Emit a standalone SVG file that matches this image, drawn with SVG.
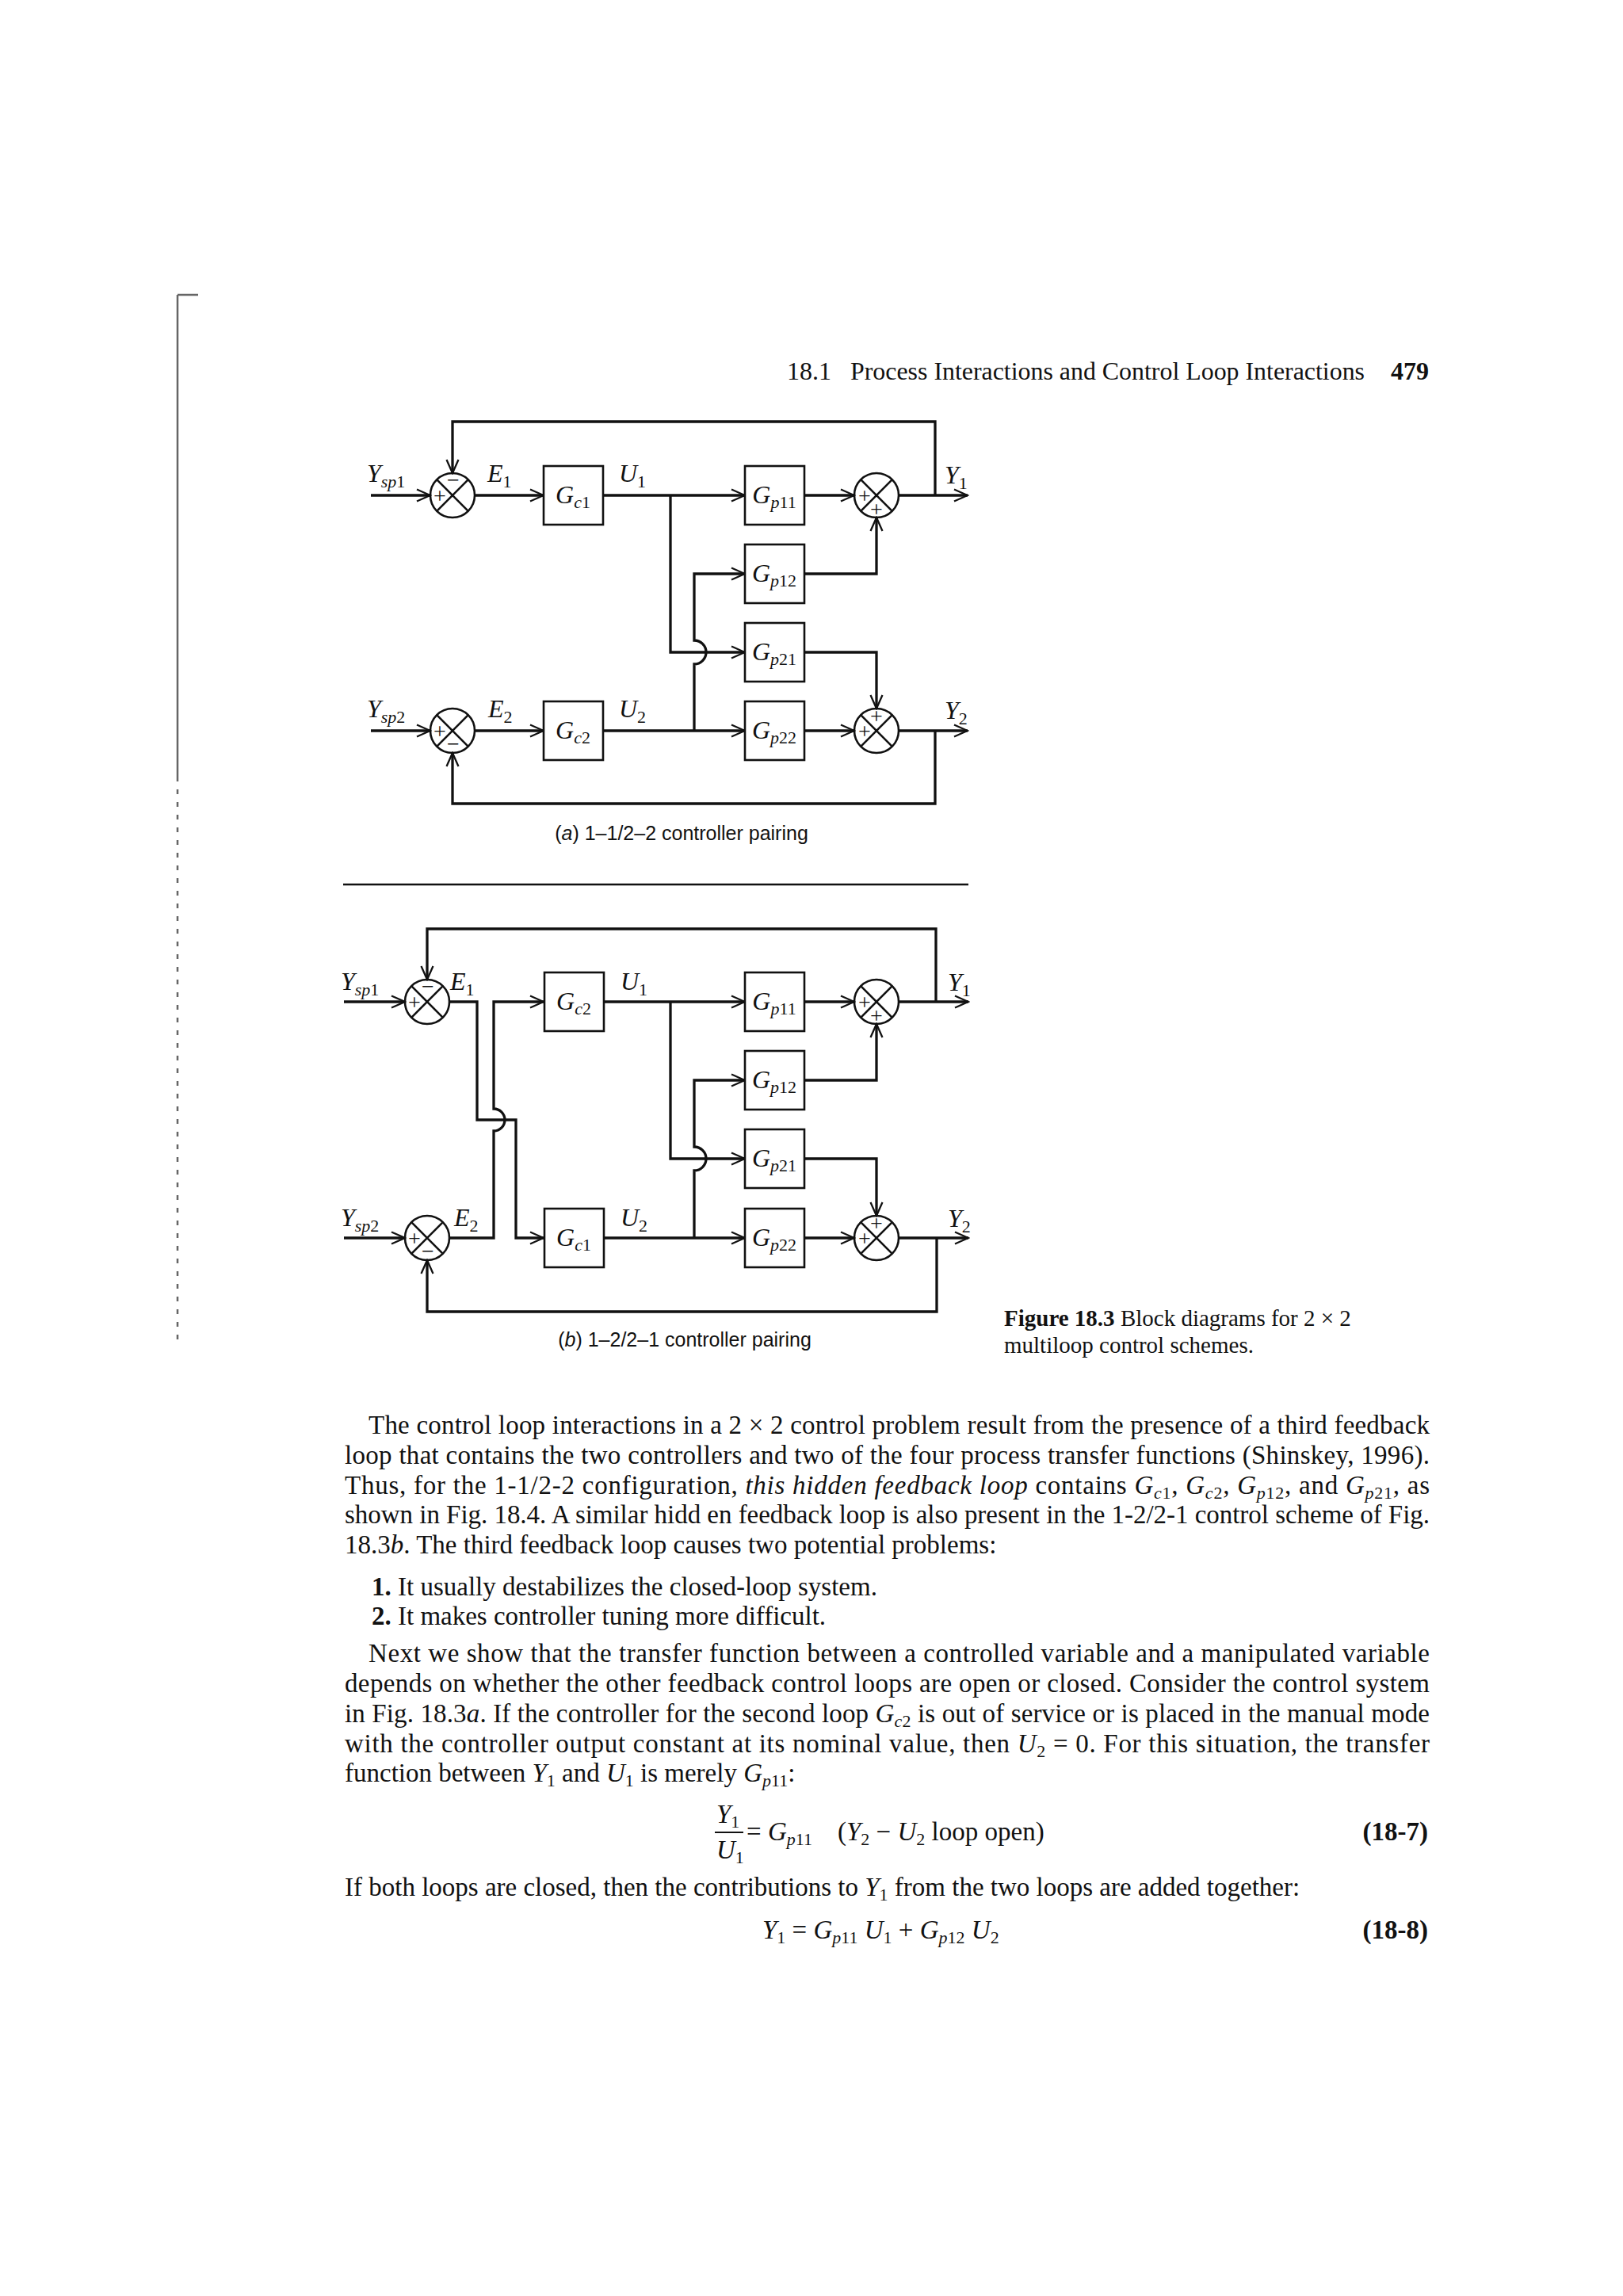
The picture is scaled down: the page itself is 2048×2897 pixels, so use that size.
<svg xmlns="http://www.w3.org/2000/svg" width="2048" height="2897" viewBox="0 0 2048 2897">
<style>
.ln{fill:none;stroke:#111;stroke-width:3.3}
.fb{fill:none;stroke:#111;stroke-width:3.3}
.bx{fill:#fff;stroke:#111;stroke-width:2.6}
.sc{fill:none;stroke:#111;stroke-width:2.6}
.lbl{font-family:"Liberation Serif","DejaVu Serif",serif;font-style:italic;font-size:32px;fill:#111}
.sb{font-size:22px}
.up{font-style:normal}
.sg{font-family:"Liberation Serif",serif;font-size:28px;fill:#111;text-anchor:middle}
.cap{font-family:"Liberation Sans","DejaVu Sans",sans-serif;font-size:25px;fill:#111}
.bd{font-family:"Liberation Serif","Times New Roman",serif;font-size:33px;fill:#111}
.fc{font-family:"Liberation Serif","Times New Roman",serif;font-size:29px;fill:#111}
.hd{font-family:"Liberation Serif","Times New Roman",serif;font-size:32px;fill:#111}
.i{font-style:italic}
.b{font-weight:bold}
.s{font-size:22px}
.n{font-style:normal}
.art{fill:none;stroke:#666;stroke-width:2.5}
</style>
<defs>
<marker id="ah" viewBox="0 0 20 18" markerWidth="20" markerHeight="18" refX="18" refY="9" orient="auto" markerUnits="userSpaceOnUse">
<path d="M1,1.5 L18,9 L1,16.5" fill="none" stroke="#111" stroke-width="2.3"/>
</marker>
<g id="sum">
<circle cx="0" cy="0" r="28" class="sc"/>
<path d="M-19.8,-19.8 L19.8,19.8 M19.8,-19.8 L-19.8,19.8" class="sc" stroke-width="2.2"/>
</g>
</defs>
<rect width="2048" height="2897" fill="#fff"/>

<!-- scan margin artifact -->
<path class="art" d="M224,372 H250 M224,372 V980"/>
<path class="art" d="M224,980 V1700" stroke-dasharray="6 10"/>

<!-- header -->
<text class="hd" x="993" y="479">18.1</text>
<text class="hd" x="1073" y="479" textLength="649" lengthAdjust="spacingAndGlyphs">Process Interactions and Control Loop Interactions</text>
<text class="hd b" x="1755" y="479">479</text>

<!-- ================= Diagram (a) ================= -->
<g id="diagram-a">
<g id="connectors-a">
<path class="ln" d="M468,625 H543" marker-end="url(#ah)"/>
<path class="ln" d="M599,625 H686" marker-end="url(#ah)"/>
<path class="ln" d="M761,625 H940" marker-end="url(#ah)"/>
<path class="ln" d="M1015,625 H1078" marker-end="url(#ah)"/>
<path class="ln" d="M1134,625 H1221" marker-end="url(#ah)"/>
<path class="fb" d="M1180,625 V532 H571 V597" marker-end="url(#ah)"/>
<path class="ln" d="M846,625 V823 H940" marker-end="url(#ah)"/>
<path class="ln" d="M876,922 V838 A15,15 0 0 0 876,808 V724 H940" marker-end="url(#ah)"/>
<path class="ln" d="M1015,724 H1106 V653" marker-end="url(#ah)"/>
<path class="ln" d="M1015,823 H1106 V894" marker-end="url(#ah)"/>
<path class="ln" d="M468,922 H543" marker-end="url(#ah)"/>
<path class="ln" d="M599,922 H686" marker-end="url(#ah)"/>
<path class="ln" d="M761,922 H940" marker-end="url(#ah)"/>
<path class="ln" d="M1015,922 H1078" marker-end="url(#ah)"/>
<path class="ln" d="M1134,922 H1221" marker-end="url(#ah)"/>
<path class="fb" d="M1180,922 V1014 H571 V950" marker-end="url(#ah)"/>
</g>
<g id="a-sum1"><use href="#sum" x="571" y="625"/><text class="sg" x="555" y="635">+</text><text class="sg" x="572" y="615">−</text></g>
<g id="a-gc1"><rect class="bx" x="686" y="588" width="75" height="74"/><text class="lbl" x="723" y="635" text-anchor="middle">G<tspan class="sb" dy="6">c</tspan><tspan class="sb up">1</tspan></text></g>
<g id="a-gp11"><rect class="bx" x="940" y="588" width="75" height="74"/><text class="lbl" x="977" y="635" text-anchor="middle">G<tspan class="sb" dy="6">p</tspan><tspan class="sb up">11</tspan></text></g>
<g id="a-gp12"><rect class="bx" x="940" y="687" width="75" height="74"/><text class="lbl" x="977" y="734" text-anchor="middle">G<tspan class="sb" dy="6">p</tspan><tspan class="sb up">12</tspan></text></g>
<g id="a-gp21"><rect class="bx" x="940" y="786" width="75" height="74"/><text class="lbl" x="977" y="833" text-anchor="middle">G<tspan class="sb" dy="6">p</tspan><tspan class="sb up">21</tspan></text></g>
<g id="a-gp22"><rect class="bx" x="940" y="885" width="75" height="74"/><text class="lbl" x="977" y="932" text-anchor="middle">G<tspan class="sb" dy="6">p</tspan><tspan class="sb up">22</tspan></text></g>
<g id="a-sumY1"><use href="#sum" x="1106" y="625"/><text class="sg" x="1091" y="635">+</text><text class="sg" x="1106" y="652">+</text></g>
<g id="a-sumY2"><use href="#sum" x="1106" y="922"/><text class="sg" x="1091" y="932">+</text><text class="sg" x="1106" y="913">+</text></g>
<g id="a-sum2"><use href="#sum" x="571" y="922"/><text class="sg" x="555" y="932">+</text><text class="sg" x="572" y="948">−</text></g>
<g id="a-gc2"><rect class="bx" x="686" y="885" width="75" height="74"/><text class="lbl" x="723" y="932" text-anchor="middle">G<tspan class="sb" dy="6">c</tspan><tspan class="sb up">2</tspan></text></g>
<g id="a-labels">
<text class="lbl" x="463" y="608">Y<tspan class="sb" dy="7">sp</tspan><tspan class="sb up">1</tspan></text>
<text class="lbl" x="615" y="608">E<tspan class="sb up" dy="7">1</tspan></text>
<text class="lbl" x="781" y="608">U<tspan class="sb up" dy="7">1</tspan></text>
<text class="lbl" x="1192" y="610">Y<tspan class="sb up" dy="7">1</tspan></text>
<text class="lbl" x="463" y="905">Y<tspan class="sb" dy="7">sp</tspan><tspan class="sb up">2</tspan></text>
<text class="lbl" x="616" y="905">E<tspan class="sb up" dy="7">2</tspan></text>
<text class="lbl" x="781" y="905">U<tspan class="sb up" dy="7">2</tspan></text>
<text class="lbl" x="1192" y="907">Y<tspan class="sb up" dy="7">2</tspan></text>
</g>
<text class="cap" x="860" y="1060" text-anchor="middle">(<tspan class="i">a</tspan>) 1–1/2–2 controller pairing</text>
</g>

<path d="M433,1116 H1222" stroke="#111" stroke-width="2.5"/>

<!-- ================= Diagram (b) ================= -->
<g id="diagram-b">
<g id="connectors-b">
<path class="ln" d="M434,1264 H511" marker-end="url(#ah)"/>
<path class="ln" d="M567,1264 H602 V1413 H651 V1562 H686" marker-end="url(#ah)"/>
<path class="ln" d="M567,1562 H623 V1427 A14,14 0 0 0 623,1399 V1264 H686" marker-end="url(#ah)"/>
<path class="ln" d="M761,1264 H940" marker-end="url(#ah)"/>
<path class="ln" d="M1015,1264 H1078" marker-end="url(#ah)"/>
<path class="ln" d="M1134,1264 H1222" marker-end="url(#ah)"/>
<path class="fb" d="M1181,1264 V1172 H539 V1236" marker-end="url(#ah)"/>
<path class="ln" d="M846,1264 V1462 H940" marker-end="url(#ah)"/>
<path class="ln" d="M876,1562 V1477 A15,15 0 0 0 876,1447 V1363 H940" marker-end="url(#ah)"/>
<path class="ln" d="M1015,1363 H1106 V1292" marker-end="url(#ah)"/>
<path class="ln" d="M1015,1462 H1106 V1534" marker-end="url(#ah)"/>
<path class="ln" d="M434,1562 H511" marker-end="url(#ah)"/>
<path class="ln" d="M761,1562 H940" marker-end="url(#ah)"/>
<path class="ln" d="M1015,1562 H1078" marker-end="url(#ah)"/>
<path class="ln" d="M1134,1562 H1222" marker-end="url(#ah)"/>
<path class="fb" d="M1182,1562 V1655 H539 V1590" marker-end="url(#ah)"/>
</g>
<g id="b-sum1"><use href="#sum" x="539" y="1264"/><text class="sg" x="523" y="1274">+</text><text class="sg" x="540" y="1254">−</text></g>
<g id="b-gc2"><rect class="bx" x="687" y="1227" width="75" height="74"/><text class="lbl" x="724" y="1274" text-anchor="middle">G<tspan class="sb" dy="6">c</tspan><tspan class="sb up">2</tspan></text></g>
<g id="b-gp11"><rect class="bx" x="940" y="1227" width="75" height="74"/><text class="lbl" x="977" y="1274" text-anchor="middle">G<tspan class="sb" dy="6">p</tspan><tspan class="sb up">11</tspan></text></g>
<g id="b-gp12"><rect class="bx" x="940" y="1326" width="75" height="74"/><text class="lbl" x="977" y="1373" text-anchor="middle">G<tspan class="sb" dy="6">p</tspan><tspan class="sb up">12</tspan></text></g>
<g id="b-gp21"><rect class="bx" x="940" y="1425" width="75" height="74"/><text class="lbl" x="977" y="1472" text-anchor="middle">G<tspan class="sb" dy="6">p</tspan><tspan class="sb up">21</tspan></text></g>
<g id="b-gp22"><rect class="bx" x="940" y="1525" width="75" height="74"/><text class="lbl" x="977" y="1572" text-anchor="middle">G<tspan class="sb" dy="6">p</tspan><tspan class="sb up">22</tspan></text></g>
<g id="b-sumY1"><use href="#sum" x="1106" y="1264"/><text class="sg" x="1091" y="1274">+</text><text class="sg" x="1106" y="1291">+</text></g>
<g id="b-sumY2"><use href="#sum" x="1106" y="1562"/><text class="sg" x="1091" y="1572">+</text><text class="sg" x="1106" y="1553">+</text></g>
<g id="b-sum2"><use href="#sum" x="539" y="1562"/><text class="sg" x="523" y="1572">+</text><text class="sg" x="540" y="1588">−</text></g>
<g id="b-gc1"><rect class="bx" x="687" y="1525" width="75" height="74"/><text class="lbl" x="724" y="1572" text-anchor="middle">G<tspan class="sb" dy="6">c</tspan><tspan class="sb up">1</tspan></text></g>
<g id="b-labels">
<text class="lbl" x="430" y="1249">Y<tspan class="sb" dy="7">sp</tspan><tspan class="sb up">1</tspan></text>
<text class="lbl" x="568" y="1249">E<tspan class="sb up" dy="7">1</tspan></text>
<text class="lbl" x="783" y="1249">U<tspan class="sb up" dy="7">1</tspan></text>
<text class="lbl" x="1196" y="1250">Y<tspan class="sb up" dy="7">1</tspan></text>
<text class="lbl" x="430" y="1547">Y<tspan class="sb" dy="7">sp</tspan><tspan class="sb up">2</tspan></text>
<text class="lbl" x="573" y="1547">E<tspan class="sb up" dy="7">2</tspan></text>
<text class="lbl" x="783" y="1547">U<tspan class="sb up" dy="7">2</tspan></text>
<text class="lbl" x="1196" y="1548">Y<tspan class="sb up" dy="7">2</tspan></text>
</g>
<text class="cap" x="864" y="1699" text-anchor="middle">(<tspan class="i">b</tspan>) 1–2/2–1 controller pairing</text>
</g>

<!-- figure caption -->
<text class="fc" x="1267" y="1673"><tspan class="b">Figure 18.3</tspan>  Block diagrams for 2 × 2</text>
<text class="fc" x="1267" y="1707">multiloop control schemes.</text>

<!-- body text -->
<text class="bd" x="465" y="1809" textLength="1339" lengthAdjust="spacing">The control loop interactions in a 2 × 2 control problem result from the presence of a third feedback</text>
<text class="bd" x="435" y="1847" textLength="1369" lengthAdjust="spacing">loop that contains the two controllers and two of the four process transfer functions (Shinskey, 1996).</text>
<text class="bd" x="435" y="1885" textLength="1369" lengthAdjust="spacing">Thus, for the 1-1/2-2 configuration, <tspan class="i">this hidden feedback loop</tspan> contains <tspan class="i">G</tspan><tspan class="s i" dy="6">c</tspan><tspan class="s">1</tspan><tspan dy="-6">, </tspan><tspan class="i">G</tspan><tspan class="s i" dy="6">c</tspan><tspan class="s">2</tspan><tspan dy="-6">, </tspan><tspan class="i">G</tspan><tspan class="s i" dy="6">p</tspan><tspan class="s">12</tspan><tspan dy="-6">, and </tspan><tspan class="i">G</tspan><tspan class="s i" dy="6">p</tspan><tspan class="s">21</tspan><tspan dy="-6">, as</tspan></text>
<text class="bd" x="435" y="1922" textLength="1369" lengthAdjust="spacing">shown in Fig. 18.4. A similar hidd en feedback loop is also present in the 1-2/2-1 control scheme of Fig.</text>
<text class="bd" x="435" y="1960">18.3<tspan class="i">b</tspan>. The third feedback loop causes two potential problems:</text>
<text class="bd" x="469" y="2013"><tspan class="b">1.</tspan>  It usually destabilizes the closed-loop system.</text>
<text class="bd" x="469" y="2050"><tspan class="b">2.</tspan>  It makes controller tuning more difficult.</text>
<text class="bd" x="465" y="2097" textLength="1339" lengthAdjust="spacing">Next we show that the transfer function between a controlled variable and a manipulated variable</text>
<text class="bd" x="435" y="2135" textLength="1369" lengthAdjust="spacing">depends on whether the other feedback control loops are open or closed. Consider the control system</text>
<text class="bd" x="435" y="2173" textLength="1369" lengthAdjust="spacing">in Fig. 18.3<tspan class="i">a</tspan>. If the controller for the second loop <tspan class="i">G</tspan><tspan class="s i" dy="6">c</tspan><tspan class="s">2</tspan><tspan dy="-6"> is out of service or is placed in the manual mode</tspan></text>
<text class="bd" x="435" y="2211" textLength="1369" lengthAdjust="spacing">with the controller output constant at its nominal value, then <tspan class="i">U</tspan><tspan class="s" dy="6">2</tspan><tspan dy="-6"> = 0. For this situation, the transfer</tspan></text>
<text class="bd" x="435" y="2248">function between <tspan class="i">Y</tspan><tspan class="s" dy="6">1</tspan><tspan dy="-6"> and </tspan><tspan class="i">U</tspan><tspan class="s" dy="6">1</tspan><tspan dy="-6"> is merely </tspan><tspan class="i">G</tspan><tspan class="s i" dy="6">p</tspan><tspan class="s">11</tspan><tspan dy="-6">:</tspan></text>

<!-- equation 18-7 -->
<text class="bd" x="904" y="2300"><tspan class="i">Y</tspan><tspan class="s" dy="6">1</tspan></text>
<path d="M902,2312 H938" stroke="#111" stroke-width="2"/>
<text class="bd" x="904" y="2345"><tspan class="i">U</tspan><tspan class="s" dy="6">1</tspan></text>
<text class="bd" x="942" y="2322">= <tspan class="i">G</tspan><tspan class="s i" dy="6">p</tspan><tspan class="s">11</tspan></text>
<text class="bd" x="1057" y="2322">(<tspan class="i">Y</tspan><tspan class="s" dy="6">2</tspan><tspan dy="-6"> − </tspan><tspan class="i">U</tspan><tspan class="s" dy="6">2</tspan><tspan dy="-6"> loop open)</tspan></text>
<text class="bd b" x="1802" y="2322" text-anchor="end">(18-7)</text>

<text class="bd" x="435" y="2392">If both loops are closed, then the contributions to <tspan class="i">Y</tspan><tspan class="s" dy="6">1</tspan><tspan dy="-6"> from the two loops are added together:</tspan></text>

<!-- equation 18-8 -->
<text class="bd" x="962" y="2446"><tspan class="i">Y</tspan><tspan class="s" dy="6">1</tspan><tspan dy="-6"> = </tspan><tspan class="i">G</tspan><tspan class="s i" dy="6">p</tspan><tspan class="s">11</tspan><tspan dy="-6"> </tspan><tspan class="i">U</tspan><tspan class="s" dy="6">1</tspan><tspan dy="-6"> + </tspan><tspan class="i">G</tspan><tspan class="s i" dy="6">p</tspan><tspan class="s">12</tspan><tspan dy="-6"> </tspan><tspan class="i">U</tspan><tspan class="s" dy="6">2</tspan></text>
<text class="bd b" x="1802" y="2446" text-anchor="end">(18-8)</text>
</svg>
